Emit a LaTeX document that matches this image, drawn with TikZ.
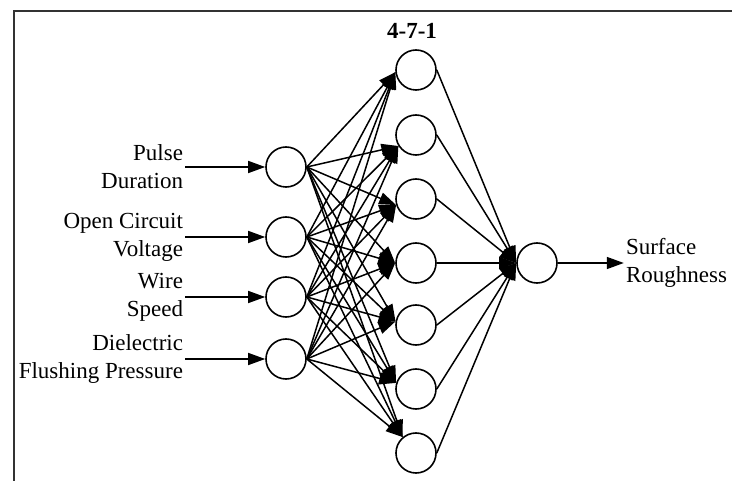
\documentclass[tikz,border=0pt]{standalone}
\usepackage{fontspec}
\setmainfont{Liberation Serif}
\usetikzlibrary{arrows.meta,positioning}

\tikzset{
  neuron/.style={circle,draw,line width=1.6pt,minimum size=40pt,inner sep=0pt},
  conn/.style={line width=1.5pt,-{Triangle[length=17pt,width=12pt]}},
  txt/.style={font=\fontsize{23}{28}\selectfont,inner sep=2pt},
}

\begin{document}
\begin{tikzpicture}[x=1pt,y=-1pt]
\useasboundingbox (0,0) rectangle (732,481);
\draw[line width=1.8pt,black!80] (14,481) -- (14,11) -- (732,11);

\foreach \y [count=\n] in {167,237,297,359}
  \node[neuron] (I\n) at (286,\y) {};
\foreach \y/\a [count=\n] in {70/186,135/212,199/197,263/180,325/170,389/163,453/130}
  {\node[neuron] (H\n) at (416,\y) {};
   \coordinate (T\n) at (H\n.\a);}
\node[neuron] (O) at (537,263) {};

\node[txt,font=\fontsize{23}{28}\selectfont\bfseries] (title) at (412,31) {4-7-1};

\foreach \t [count=\n] in {{Pulse\\Duration},{Open Circuit\\Voltage},{Wire\\Speed},{Dielectric\\Flushing Pressure}}
  \node[txt,align=right,left=80pt of I\n] (L\n) {\t};
\node[txt,align=left,right=66pt of O] (R) {Surface\\Roughness};

\foreach \n in {1,...,4}
  \draw[conn] (L\n) -- (I\n);
\foreach \i in {1,...,4}
  \foreach \h in {1,...,7}
    \draw[conn] (I\i.east) -- (T\h);
\foreach \h in {1,...,7}
  \draw[conn] (H\h.east) -- (O.west);
\draw[conn] (O) -- (R);
\end{tikzpicture}
\end{document}
